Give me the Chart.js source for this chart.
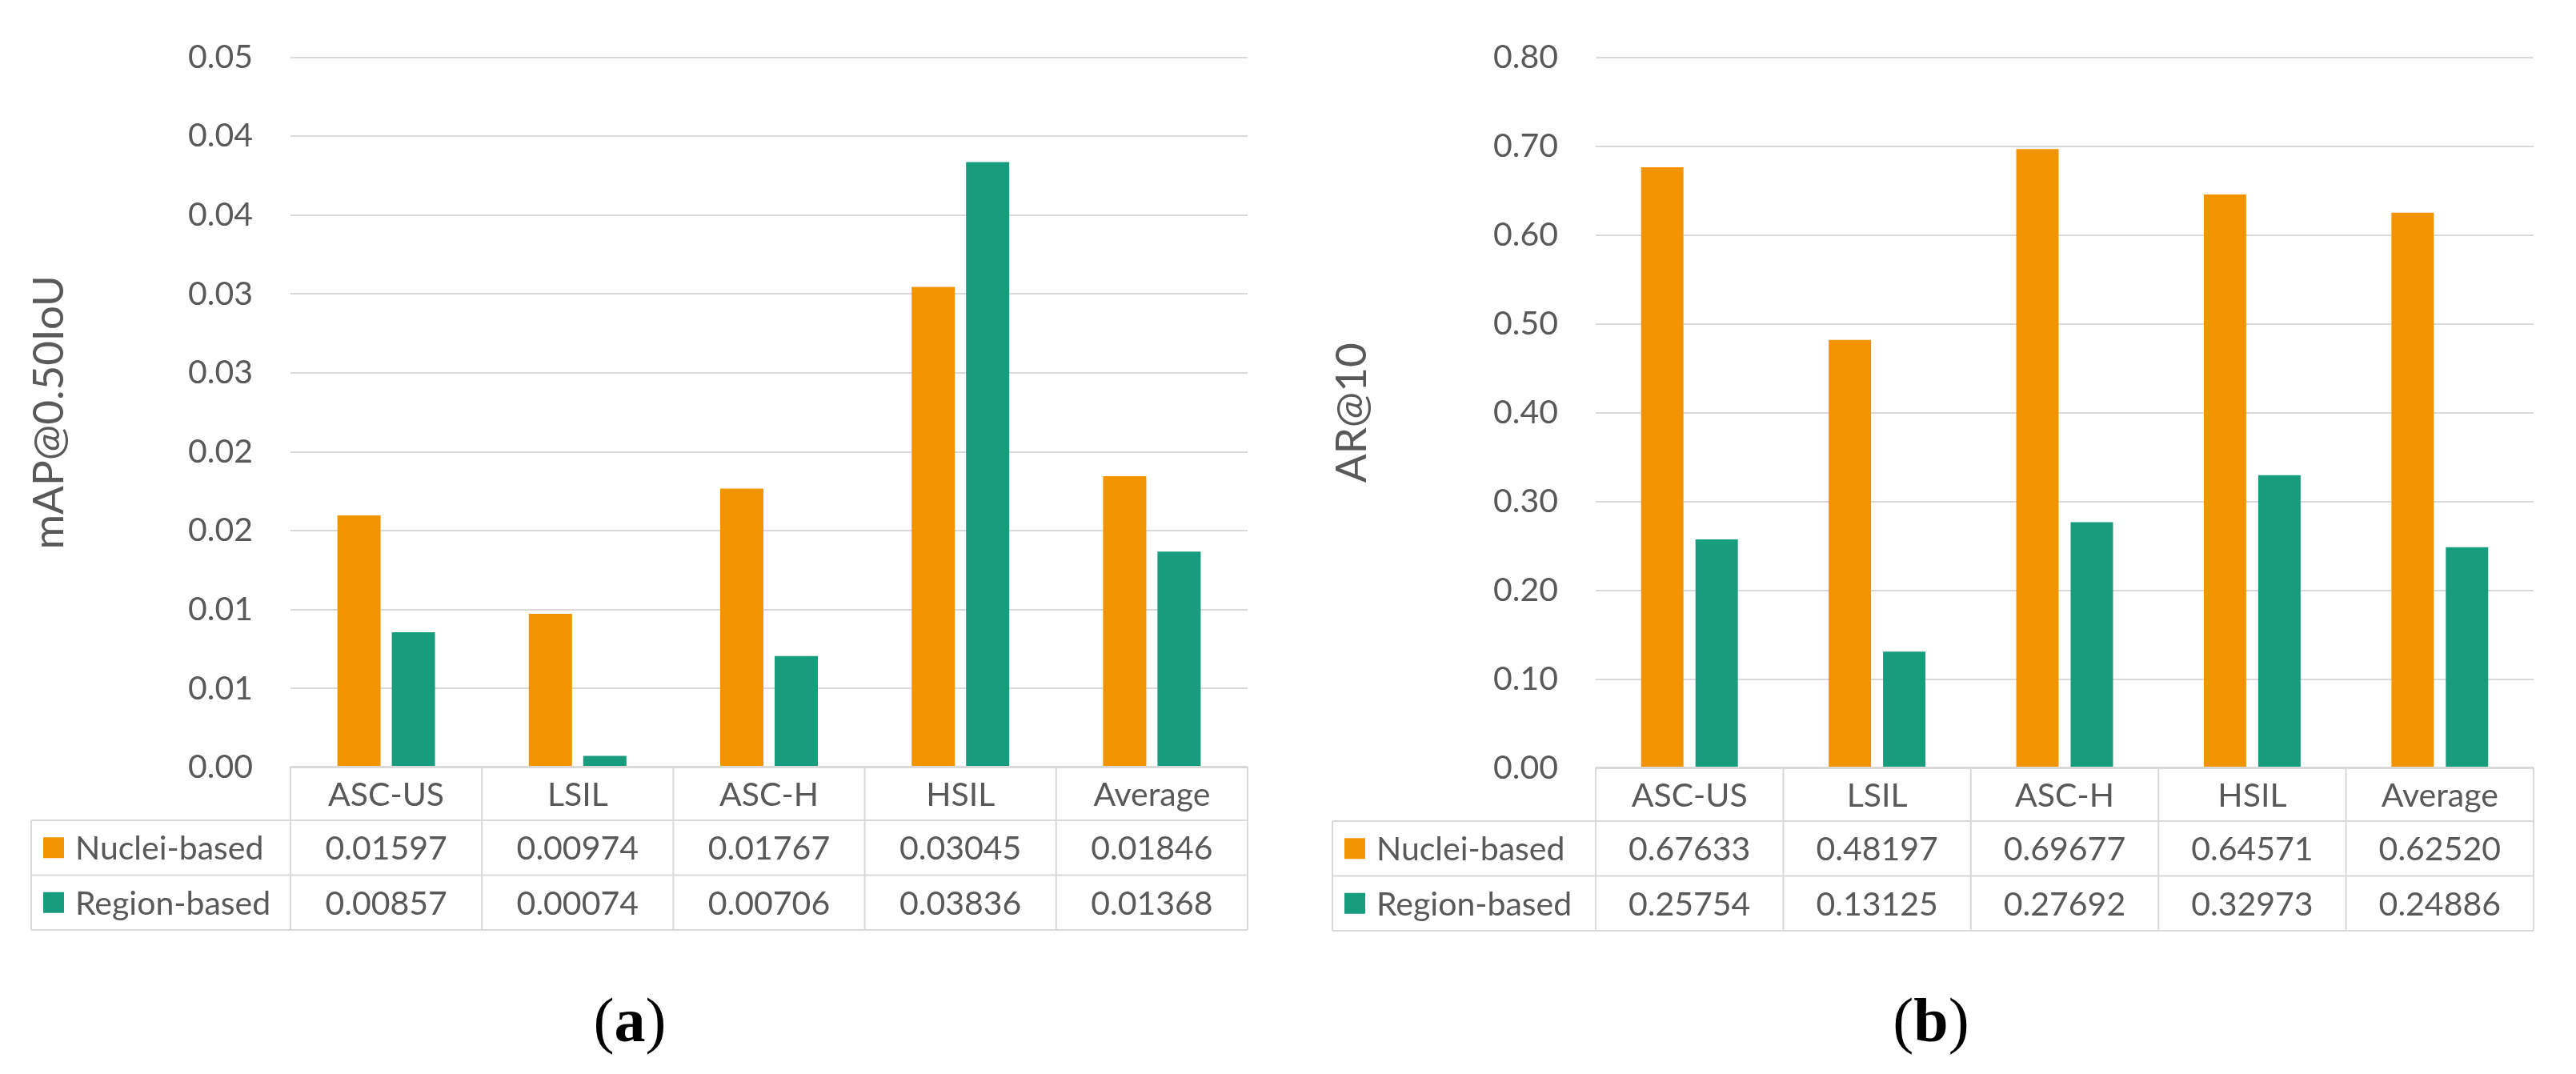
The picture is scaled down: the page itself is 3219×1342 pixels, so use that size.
<!DOCTYPE html>
<html><head><meta charset="utf-8">
<script src="https://cdn.jsdelivr.net/npm/chart.js@4"></script>
<style>
html,body{margin:0;padding:0;background:#fff;width:3219px;height:1342px;overflow:hidden}
canvas{position:absolute;top:0}
#ca{left:0}
#cb{left:1600px}
</style></head><body>
<canvas id="ca" width="1600" height="1342"></canvas>
<canvas id="cb" width="1619" height="1342"></canvas>
<script>
const categories = ['ASC-US','LSIL','ASC-H','HSIL','Average'];
const seriesNames = ['Nuclei-based','Region-based'];
const mapNuclei = [0.01597,0.00974,0.01767,0.03045,0.01846];
const mapRegion = [0.00857,0.00074,0.00706,0.03836,0.01368];
const arNuclei = [0.67633,0.48197,0.69677,0.64571,0.62520];
const arRegion = [0.25754,0.13125,0.27692,0.32973,0.24886];
const mapTickLabels = ['0.00','0.01','0.01','0.02','0.02','0.03','0.03','0.04','0.04','0.05'];
const arTickLabels = ['0.00','0.10','0.20','0.30','0.40','0.50','0.60','0.70','0.80'];

const ORANGE = '#F29400';
const TEAL = '#179C7D';
const TEXT = '#595959';
const LINE = '#D9D9D9';
const FONT = 'Lato';

Chart.defaults.font.family = FONT;
Chart.defaults.color = TEXT;

function tablePlugin(p){
  return {
    id: 'dataTable',
    afterDraw(chart){
      const ctx = chart.ctx;
      const a = chart.chartArea;
      const n = categories.length;
      const cw = (a.right - a.left) / n;
      const top = a.bottom - 1;
      const hH = 67, rH = 68.5;
      const y1 = top + hH, y2 = y1 + rH, y3 = y2 + rH;
      ctx.save();
      ctx.strokeStyle = LINE;
      ctx.lineWidth = 2;
      ctx.beginPath();
      ctx.moveTo(a.left, top); ctx.lineTo(a.right, top);
      [y1, y2, y3].forEach(y => { ctx.moveTo(p.tableLeft, y); ctx.lineTo(a.right, y); });
      for (let i = 0; i <= n; i++) {
        const x = a.left + i * cw;
        ctx.moveTo(x, top); ctx.lineTo(x, y3);
      }
      ctx.moveTo(p.tableLeft, y1); ctx.lineTo(p.tableLeft, y3);
      ctx.stroke();

      ctx.fillStyle = TEXT;
      ctx.font = '41px ' + FONT;
      ctx.textAlign = 'center';
      ctx.textBaseline = 'alphabetic';
      const off = 15;
      categories.forEach((c, i) => {
        const cx = chart.scales.x.getPixelForValue(i);
        ctx.fillText(c, cx, (top + y1) / 2 + off);
        ctx.fillText(p.series[0][i].toFixed(5), cx, (y1 + y2) / 2 + off);
        ctx.fillText(p.series[1][i].toFixed(5), cx, (y2 + y3) / 2 + off);
      });
      const colors = [ORANGE, TEAL];
      const rows = [[y1, y2], [y2, y3]];
      ctx.textAlign = 'left';
      rows.forEach((r, k) => {
        const cy = (r[0] + r[1]) / 2;
        ctx.fillStyle = colors[k];
        ctx.fillRect(p.tableLeft + 15, cy - 13, 26, 26);
        ctx.fillStyle = TEXT;
        ctx.fillText(seriesNames[k], p.tableLeft + 55, cy + off);
      });

      // caption
      ctx.fillStyle = '#000';
      const fr = '78px "Liberation Serif"', fb = 'bold 78px "Liberation Serif"';
      ctx.font = fr; const w1 = ctx.measureText('(').width; const w3 = ctx.measureText(')').width;
      ctx.font = fb; const w2 = ctx.measureText(p.caption).width;
      let x = p.captionX - (w1 + w2 + w3) / 2;
      const by = 1301;
      ctx.font = fr; ctx.fillText('(', x, by); x += w1;
      ctx.font = fb; ctx.fillText(p.caption, x, by); x += w2;
      ctx.font = fr; ctx.fillText(')', x, by);
      ctx.restore();
    }
  };
}

function makeChart(id, p){
  new Chart(document.getElementById(id), {
    type: 'bar',
    data: {
      labels: categories,
      datasets: [
        { label: seriesNames[0], data: p.series[0], backgroundColor: ORANGE,
          categoryPercentage: p.catPct, barPercentage: p.barPct },
        { label: seriesNames[1], data: p.series[1], backgroundColor: TEAL,
          categoryPercentage: p.catPct, barPercentage: p.barPct }
      ]
    },
    options: {
      responsive: false,
      animation: false,
      devicePixelRatio: 1,
      layout: { padding: { left: 0, top: p.top, right: p.right, bottom: p.bottom } },
      plugins: { legend: { display: false }, tooltip: { enabled: false } },
      scales: {
        x: { display: false },
        y: {
          min: 0, max: p.max,
          ticks: { stepSize: p.step, padding: 47, color: TEXT, font: { size: 41, family: FONT },
                   callback: (v, i) => p.tickLabels[i] },
          grid: { color: LINE, lineWidth: 2, drawTicks: false },
          border: { display: false },
          title: { display: true, text: p.title, color: TEXT, font: { size: 53, family: FONT },
                   padding: { top: p.titlePad, bottom: 0 } },
          afterFit: s => { s.width = p.axisW; }
        }
      }
    },
    plugins: [tablePlugin(p)]
  });
}

makeChart('ca', {
  series: [mapNuclei, mapRegion], tickLabels: mapTickLabels, max: 0.045, step: 0.005,
  title: 'mAP@0.50IoU', titlePad: 30, axisW: 363, top: 62, right: 41, bottom: 1342 - 959,
  catPct: 0.5686, barPct: 0.794, tableLeft: 39, caption: 'a', captionX: 787
});
makeChart('cb', {
  series: [arNuclei, arRegion], tickLabels: arTickLabels, max: 0.8, step: 0.1,
  title: 'AR@10', titlePad: 58, axisW: 394, top: 58, right: 53, bottom: 1342 - 960,
  catPct: 0.580, barPct: 0.779, tableLeft: 65, caption: 'b', captionX: 813
});
</script>
</body></html>
